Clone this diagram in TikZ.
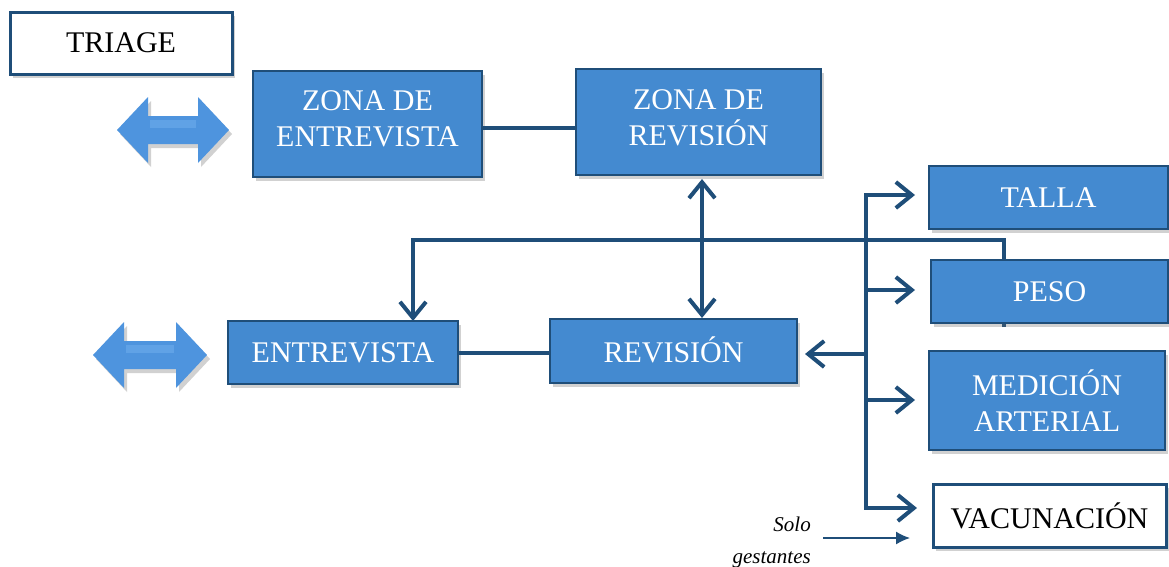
\documentclass[tikz,border=0pt]{standalone}
\usepackage{fontspec}
\setmainfont{Liberation Serif}
\usetikzlibrary{arrows.meta,shadows}
\definecolor{lineblue}{RGB}{31,78,121}
\definecolor{boxblue}{RGB}{68,138,208}
\definecolor{arrowblue}{RGB}{78,148,222}
\definecolor{arrowlight}{RGB}{120,180,240}
\tikzset{
  basebox/.style={rectangle, inner sep=0pt, outer sep=0pt, align=center,
    font=\fontsize{30}{36}\selectfont, line width=2.5pt, draw=lineblue,
    drop shadow={shadow xshift=3pt, shadow yshift=-4pt, opacity=0.3, fill=black!60}},
  bluebox/.style={basebox, fill=boxblue, text=white, line width=2pt},
  whitebox/.style={basebox, fill=white, text=black, line width=3pt},
  conn/.style={draw=lineblue, line width=4pt, line join=miter},
  tip/.style={-{Straight Barb[length=16pt,width=26pt]}},
  bitip/.style={{Straight Barb[length=16pt,width=26pt]}-{Straight Barb[length=16pt,width=26pt]}},
  blockarrow/.style={fill=arrowblue, draw=none,
    drop shadow={shadow xshift=3pt, shadow yshift=-4pt, opacity=0.3, fill=black!60}},
}
\begin{document}
\begin{tikzpicture}[x=1pt,y=-1pt]
\useasboundingbox (0,0) rectangle (1169,566);

\coordinate (c0) at (1004,327);
\coordinate (c1) at (1004,240);
\coordinate (t1) at (866,195);
\coordinate (t2) at (866,290);
\coordinate (t3) at (866,400);
\coordinate (t4) at (866,508);
\coordinate (tr) at (866,354);

% nodes
\node[whitebox, minimum width=222pt, minimum height=62pt] (triage) at (121,43) {TRIAGE};
\node[bluebox, minimum width=229pt, minimum height=106pt, text depth=10pt] (ze) at (367.5,124) {ZONA DE\\ENTREVISTA};
\node[bluebox, minimum width=245pt, minimum height=106pt, text depth=8pt] (zr) at (698.5,122) {ZONA DE\\REVISIÓN};
\node[bluebox, minimum width=230pt, minimum height=63pt] (ent) at (343,352.5) {ENTREVISTA};
\node[bluebox, minimum width=247pt, minimum height=64pt, text depth=2pt] (rev) at (673.5,351) {REVISIÓN};

% long feedback line to ENTREVISTA (drawn before PESO so it disappears behind it)
\draw[conn, tip] (c0) -- (c1) -| ([xshift=70pt]ent.north);

\node[bluebox, minimum width=239pt, minimum height=63pt] (talla) at (1048.5,197.5) {TALLA};
\node[bluebox, minimum width=237pt, minimum height=63pt] (peso) at (1049.5,291.5) {PESO};
\node[bluebox, minimum width=236pt, minimum height=99pt] (med) at (1047,400.5) {MEDICIÓN\\ARTERIAL};
\node[whitebox, minimum width=233pt, minimum height=63pt] (vac) at (1049.5,515.5) {VACUNACIÓN};

% links
\draw[conn] ([yshift=-4pt]ze.east) -- ([yshift=-4pt]ze.east -| zr.west);
\draw[conn] (ent.east) -- (ent.east -| rev.west);
\draw[conn, bitip, shorten <=4pt, shorten >=1pt] ([xshift=3.5pt]zr.south) -- ([xshift=28.5pt]rev.north);

% trunk and branches
\draw[conn, tip, shorten >=14pt] (t4) -- (t1) -- (t1 -| talla.west);
\draw[conn, tip, shorten >=16pt] (t1) -- (t4) -- (t4 -| vac.west);
\draw[conn, tip, shorten >=16pt] (t2) -- (t2 -| peso.west);
\draw[conn, tip, shorten >=14pt] (t3) -- (t3 -| med.west);
\draw[conn, tip, shorten >=8pt] (tr) -- (tr -| rev.east);

% Solo gestantes
\node[font=\fontsize{21}{32}\selectfont\itshape, align=right, anchor=east, inner sep=0pt] (sg) at (811,542) {Solo\\gestantes};
\coordinate (sgend) at (910,538);
\draw[draw=lineblue, line width=1.5pt, -{Latex[length=14pt,width=13pt]}] ([xshift=12pt,yshift=4pt]sg.east) -- (sgend);

% double block arrows
\draw[blockarrow] (117,130) -- (148,97) -- (148,116) -- (198,116) -- (198,97) -- (229,130) -- (198,163) -- (198,144) -- (148,144) -- (148,163) -- cycle;
\fill[arrowlight, opacity=0.45] (150,120) rectangle (196,128);
\draw[blockarrow] (93,355) -- (124,322) -- (124,341) -- (176,341) -- (176,322) -- (207,355) -- (176,388) -- (176,369) -- (124,369) -- (124,388) -- cycle;
\fill[arrowlight, opacity=0.45] (126,345) rectangle (174,353);
\end{tikzpicture}
\end{document}
